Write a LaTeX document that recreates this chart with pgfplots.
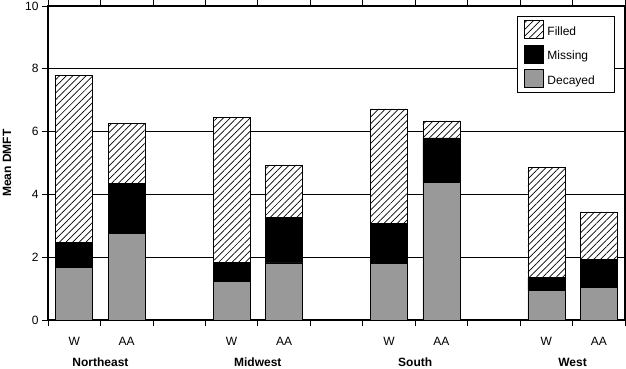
\documentclass[border=0pt]{standalone}
\usepackage{pgfplots}
\pgfplotsset{compat=1.18}
\usepackage{fontspec}
\setmainfont{Liberation Sans}
\usetikzlibrary{patterns.meta,calc}
\definecolor{decay}{HTML}{999999}
\begin{document}
\begin{tikzpicture}
\pgfplotsset{
  sqleg/.style={legend image code/.code={\draw[##1, line width=0.6pt] (0pt,-7pt) rectangle (19pt,11pt);}},
}
\begin{axis}[
  name=ax,
  scale only axis, width=577pt, height=314pt,
  ybar stacked, bar width=37pt,
  xmin=0, xmax=11, ymin=0, ymax=10,
  clip=false,
  xtick={0,...,11}, xticklabels={},
  extra x ticks={0.5,1.5,3.5,4.5,6.5,7.5,9.5,10.5},
  extra x tick labels={W,AA,W,AA,W,AA,W,AA},
  extra x tick style={major tick length=0pt, tick label style={yshift=-14pt}},
  ytick={0,2,...,10},
  tick align=outside, major tick length=6pt,
  tick style={black, line width=0.8pt},
  ymajorgrids, major grid style={black, line width=0.8pt},
  axis line style={line width=1.3pt},
  ticklabel style={font=\fontsize{12}{14}\selectfont},
  /pgf/number format/assume math mode=true,
  ylabel={\bfseries Mean DMFT},
  ylabel style={font=\fontsize{12}{14}\selectfont, at={(rel axis cs:-0.071,0.5)}, anchor=center},
  reverse legend,
  legend style={at={(rel axis cs:0.983,0.969)}, anchor=north east, draw=black, line width=0.8pt,
    font=\fontsize{12}{14}\selectfont, row sep=6pt, inner xsep=6pt, inner ysep=4pt,
    /tikz/every odd column/.append style={column sep=2pt}},
  legend cell align=left,
]
\addplot+[draw=black, line width=0.6pt, fill=decay, sqleg] coordinates
  {(0.5,1.67) (1.5,2.75) (3.5,1.23) (4.5,1.82) (6.5,1.80) (7.5,4.38) (9.5,0.95) (10.5,1.05)};
\addplot+[draw=black, line width=0.6pt, fill=black, sqleg] coordinates
  {(0.5,0.79) (1.5,1.60) (3.5,0.60) (4.5,1.44) (6.5,1.28) (7.5,1.42) (9.5,0.40) (10.5,0.87)};
\addplot+[draw=black, line width=0.6pt, fill=white, postaction={pattern={Lines[angle=45,distance=4.7pt,line width=0.7pt]}}, sqleg] coordinates
  {(0.5,5.32) (1.5,1.90) (3.5,4.61) (4.5,1.68) (6.5,3.64) (7.5,0.54) (9.5,3.51) (10.5,1.52)};
\legend{Decayed\hspace*{12pt},Missing,Filled}
\node[font=\fontsize{12}{14}\selectfont\bfseries] at (axis cs:1,0) [yshift=-42pt] {Northeast};
\node[font=\fontsize{12}{14}\selectfont\bfseries] at (axis cs:4,0) [yshift=-42pt] {Midwest};
\node[font=\fontsize{12}{14}\selectfont\bfseries] at (axis cs:7,0) [yshift=-42pt] {South};
\node[font=\fontsize{12}{14}\selectfont\bfseries] at (axis cs:10,0) [yshift=-42pt] {West};
\end{axis}
\pgfresetboundingbox
\path[use as bounding box] ($(ax.south west)+(-48pt,-48pt)$) rectangle ($(ax.north east)+(1pt,6pt)$);
\end{tikzpicture}
\end{document}
